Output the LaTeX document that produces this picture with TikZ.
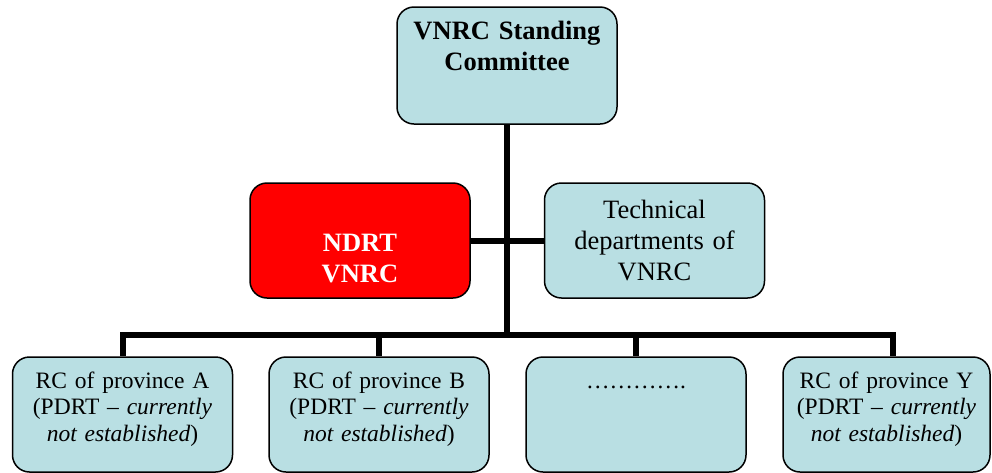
\documentclass[tikz,border=0pt]{standalone}
\usepackage{fontspec}
\setmainfont{Liberation Serif}
\usetikzlibrary{positioning,calc}
\definecolor{paleblue}{RGB}{185,223,227}
\definecolor{alarmred}{RGB}{255,0,0}

\begin{document}
\begin{tikzpicture}[x=1pt,y=1pt]

\tikzset{every node/.style = {align=center, text width=200pt, inner sep=3pt}}
\tikzset{link/.style = {line width=6pt}}
\tikzstyle{unit} = [rectangle, rounded corners=17pt, draw, line width=1.5pt, fill=paleblue, minimum width=220pt, minimum height=115pt, font=\fontsize{26.5}{31}\selectfont]
\tikzstyle{branch} = [unit, text depth=69pt, font=\fontsize{23.5}{26.5}\selectfont]

\useasboundingbox (0,0) rectangle (992,-472);

\node[unit, minimum height=117pt, font=\bfseries\fontsize{26.5}{31}\selectfont] (vnrc_sc) at (507,-65.5) {VNRC Standing\\Committee\\\strut};
\node[unit]                                        (tech_d)  [below=57.5pt of vnrc_sc, xshift=147.5pt] {Technical\\departments of\\VNRC};
\node[unit, fill=alarmred, text=white, font=\bfseries\fontsize{26.5}{31}\selectfont] (ndrt) [left=73pt of tech_d] {\strut\\NDRT\\VNRC};
\node[branch]                                      (rc_b)    [below=57.5pt of ndrt, xshift=19pt]      {RC of province B\\(PDRT -- \emph{currently}\\\emph{not established})};
\node[branch]                                      (rc_a)    [left=35pt of rc_b]                      {RC of province A\\(PDRT -- \emph{currently}\\\emph{not established})};
\node[branch, text depth=71.5pt]                   (rc_dots) [right=35.5pt of rc_b]                   {\strut………….};
\node[branch, minimum width=207pt]                 (rc_y)    [right=35.5pt of rc_dots]                {RC of province Y\\(PDRT -- \emph{currently}\\\emph{not established})};

\coordinate (bus_mid)  at ($(vnrc_sc.south |- rc_b.north) + (0,21)$);
\coordinate (bus_a)    at (rc_a.north |- bus_mid);
\coordinate (bus_b)    at (rc_b.north |- bus_mid);
\coordinate (bus_dots) at (rc_dots.north |- bus_mid);
\coordinate (drop_y)   at ($(rc_y.north) + (6.5,0)$);
\coordinate (bus_y)    at (drop_y |- bus_mid);

\draw (vnrc_sc)  edge[link]                 (bus_mid);
\draw (ndrt)     edge[link]                 (tech_d);
\draw (bus_a)    edge[link, line cap=rect]  (bus_y);
\draw (bus_a)    edge[link]                 (rc_a);
\draw (bus_b)    edge[link]                 (rc_b);
\draw (bus_dots) edge[link]                 (rc_dots);
\draw (bus_y)    edge[link]                 (drop_y);

\end{tikzpicture}
\end{document}
